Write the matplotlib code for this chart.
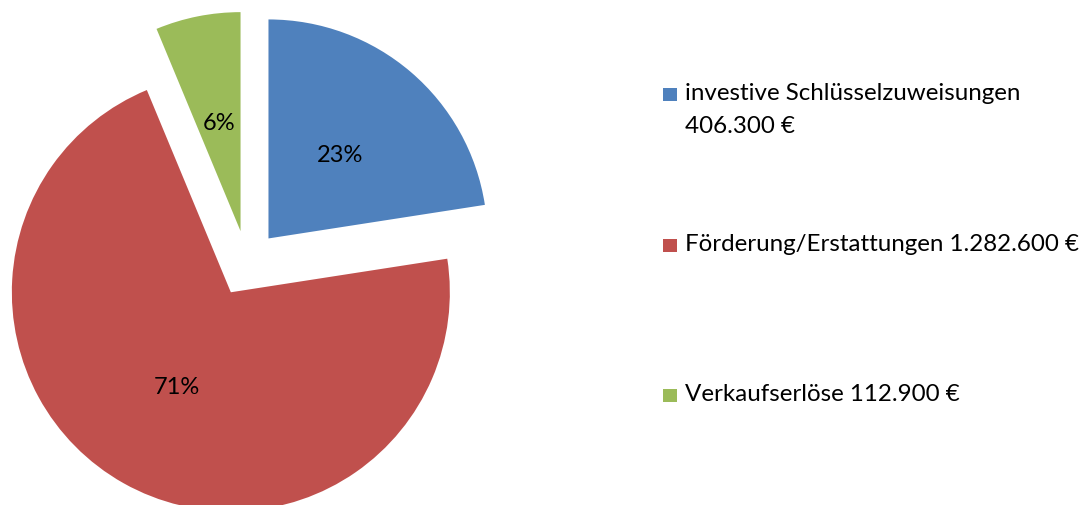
import matplotlib
matplotlib.use("Agg")
import matplotlib.pyplot as plt
from matplotlib.patches import Rectangle

# Werte aus dem Diagramm (Euro)
kategorien = ["investive Schlüsselzuweisungen\n406.300 €",
              "Förderung/Erstattungen 1.282.600 €",
              "Verkaufserlöse 112.900 €"]
betraege = [406300, 1282600, 112900]
farben = ["#4F81BD", "#C0504D", "#9BBB59"]

plt.rcParams['font.family'] = ['Lato', 'DejaVu Sans']

W, H = 1083, 505
fig = plt.figure(figsize=(W / 100, H / 100), dpi=100)
# Achse in Pixel-Einheiten, damit Kreis und Legende einfach zu platzieren sind
ax = fig.add_axes([0, 0, 1, 1])

ax.pie(betraege, colors=farben, startangle=90, counterclock=False,
       center=(247, H - 263.5), radius=219, explode=[33, 33, 33],
       autopct='%.0f%%', pctdistance=0.5,
       textprops={'fontsize': 17, 'color': 'black'},
       wedgeprops={'linewidth': 0})

ax.set_xlim(0, W)
ax.set_ylim(0, H)
ax.set_aspect('equal')
ax.axis('off')

# Legende rechts, von Hand gesetzt (erste Zeile jeweils auf Höhe des Kästchens)
grundlinien = [100.5, 251, 401]
zeilenabstand = 32.5
for text, farbe, y0 in zip(kategorien, farben, grundlinien):
    ax.add_patch(Rectangle((663, H - y0 - 0.5), 14, 13, facecolor=farbe,
                           edgecolor='none'))
    for i, zeile in enumerate(text.split("\n")):
        ax.text(685, H - y0 - i * zeilenabstand, zeile, fontsize=17.4,
                ha='left', va='baseline', color='black')

fig.savefig('out.png', dpi=100)
